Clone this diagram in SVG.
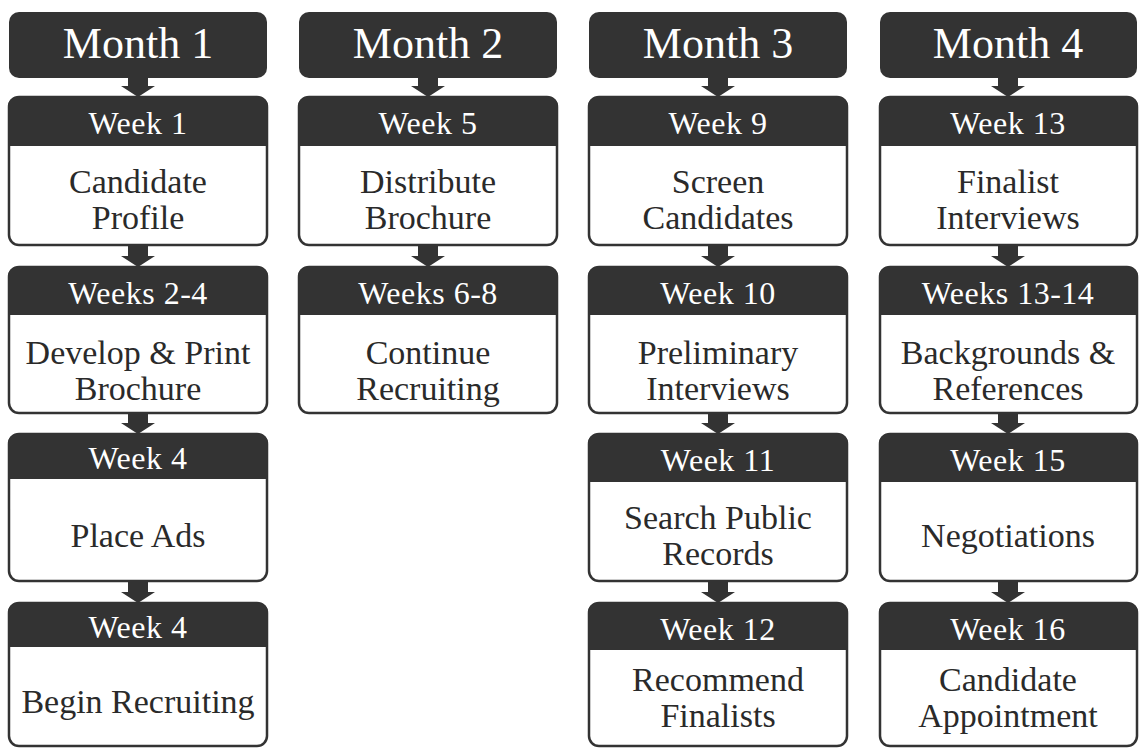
<svg xmlns="http://www.w3.org/2000/svg" width="1139" height="749" viewBox="0 0 1139 749">
<style>
.bg{fill:#ffffff}
.month{fill:#333333}
.mt{font-family:'Liberation Serif',serif;font-size:44px;fill:#ffffff;text-anchor:middle}
.body{fill:#ffffff;stroke:#333333;stroke-width:2.5}
.hdr{fill:#333333}
.wt{font-family:'Liberation Serif',serif;font-size:32px;letter-spacing:0.5px;fill:#ffffff;text-anchor:middle}
.bt{font-family:'Liberation Serif',serif;font-size:34px;fill:#2a2a2a;text-anchor:middle}
.arr{fill:#333333}
</style>
<rect class="bg" x="0" y="0" width="1139" height="749"/>

<!-- Column 1 -->
<g id="month1"><rect class="month" x="9" y="12" width="258" height="66" rx="10"/><text class="mt" x="138" y="58">Month 1</text></g>
<g id="week1">
<rect class="body" x="9" y="97" width="258" height="148" rx="10"/>
<path class="hdr" d="M8,146 V107 Q8,97 18,97 H258 Q268,97 268,107 V146 Z"/>
<text class="wt" x="138" y="134">Week 1</text>
<text class="bt" x="138" y="193">Candidate</text><text class="bt" x="138" y="229">Profile</text>
</g>
<g id="weeks2-4">
<rect class="body" x="9" y="267" width="258" height="146" rx="10"/>
<path class="hdr" d="M8,315 V277 Q8,267 18,267 H258 Q268,267 268,277 V315 Z"/>
<text class="wt" x="138" y="304">Weeks 2-4</text>
<text class="bt" x="138" y="364">Develop &amp; Print</text><text class="bt" x="138" y="400">Brochure</text>
</g>
<g id="week4a">
<rect class="body" x="9" y="434" width="258" height="147" rx="10"/>
<path class="hdr" d="M8,479 V444 Q8,434 18,434 H258 Q268,434 268,444 V479 Z"/>
<text class="wt" x="138" y="469">Week 4</text>
<text class="bt" x="138" y="547">Place Ads</text>
</g>
<g id="week4b">
<rect class="body" x="9" y="603" width="258" height="143" rx="10"/>
<path class="hdr" d="M8,647 V613 Q8,603 18,603 H258 Q268,603 268,613 V647 Z"/>
<text class="wt" x="138" y="638">Week 4</text>
<text class="bt" x="138" y="713">Begin Recruiting</text>
</g>

<!-- Column 2 -->
<g id="month2"><rect class="month" x="299" y="12" width="258" height="66" rx="10"/><text class="mt" x="428" y="58">Month 2</text></g>
<g id="week5">
<rect class="body" x="299" y="97" width="258" height="148" rx="10"/>
<path class="hdr" d="M298,146 V107 Q298,97 308,97 H548 Q558,97 558,107 V146 Z"/>
<text class="wt" x="428" y="134">Week 5</text>
<text class="bt" x="428" y="193">Distribute</text><text class="bt" x="428" y="229">Brochure</text>
</g>
<g id="weeks6-8">
<rect class="body" x="299" y="267" width="258" height="146" rx="10"/>
<path class="hdr" d="M298,315 V277 Q298,267 308,267 H548 Q558,267 558,277 V315 Z"/>
<text class="wt" x="428" y="304">Weeks 6-8</text>
<text class="bt" x="428" y="364">Continue</text><text class="bt" x="428" y="400">Recruiting</text>
</g>

<!-- Column 3 -->
<g id="month3"><rect class="month" x="589" y="12" width="258" height="66" rx="10"/><text class="mt" x="718" y="58">Month 3</text></g>
<g id="week9">
<rect class="body" x="589" y="97" width="258" height="148" rx="10"/>
<path class="hdr" d="M588,146 V107 Q588,97 598,97 H838 Q848,97 848,107 V146 Z"/>
<text class="wt" x="718" y="134">Week 9</text>
<text class="bt" x="718" y="193">Screen</text><text class="bt" x="718" y="229">Candidates</text>
</g>
<g id="week10">
<rect class="body" x="589" y="267" width="258" height="146" rx="10"/>
<path class="hdr" d="M588,315 V277 Q588,267 598,267 H838 Q848,267 848,277 V315 Z"/>
<text class="wt" x="718" y="304">Week 10</text>
<text class="bt" x="718" y="364">Preliminary</text><text class="bt" x="718" y="400">Interviews</text>
</g>
<g id="week11">
<rect class="body" x="589" y="434" width="258" height="147" rx="10"/>
<path class="hdr" d="M588,482 V444 Q588,434 598,434 H838 Q848,434 848,444 V482 Z"/>
<text class="wt" x="718" y="471">Week 11</text>
<text class="bt" x="718" y="529">Search Public</text><text class="bt" x="718" y="565">Records</text>
</g>
<g id="week12">
<rect class="body" x="589" y="603" width="258" height="143" rx="10"/>
<path class="hdr" d="M588,650 V613 Q588,603 598,603 H838 Q848,603 848,613 V650 Z"/>
<text class="wt" x="718" y="640">Week 12</text>
<text class="bt" x="718" y="691">Recommend</text><text class="bt" x="718" y="727">Finalists</text>
</g>

<!-- Column 4 -->
<g id="month4"><rect class="month" x="880" y="12" width="257" height="66" rx="10"/><text class="mt" x="1008" y="58">Month 4</text></g>
<g id="week13">
<rect class="body" x="880" y="97" width="257" height="148" rx="10"/>
<path class="hdr" d="M879,146 V107 Q879,97 889,97 H1128 Q1138,97 1138,107 V146 Z"/>
<text class="wt" x="1008" y="134">Week 13</text>
<text class="bt" x="1008" y="193">Finalist</text><text class="bt" x="1008" y="229">Interviews</text>
</g>
<g id="weeks13-14">
<rect class="body" x="880" y="267" width="257" height="146" rx="10"/>
<path class="hdr" d="M879,315 V277 Q879,267 889,267 H1128 Q1138,267 1138,277 V315 Z"/>
<text class="wt" x="1008" y="304">Weeks 13-14</text>
<text class="bt" x="1008" y="364">Backgrounds &amp;</text><text class="bt" x="1008" y="400">References</text>
</g>
<g id="week15">
<rect class="body" x="880" y="434" width="257" height="147" rx="10"/>
<path class="hdr" d="M879,482 V444 Q879,434 889,434 H1128 Q1138,434 1138,444 V482 Z"/>
<text class="wt" x="1008" y="471">Week 15</text>
<text class="bt" x="1008" y="547">Negotiations</text>
</g>
<g id="week16">
<rect class="body" x="880" y="603" width="257" height="143" rx="10"/>
<path class="hdr" d="M879,650 V613 Q879,603 889,603 H1128 Q1138,603 1138,613 V650 Z"/>
<text class="wt" x="1008" y="640">Week 16</text>
<text class="bt" x="1008" y="691">Candidate</text><text class="bt" x="1008" y="727">Appointment</text>
</g>

<!-- Connectors -->
<g id="connectors">
<polygon class="arr" points="128,76 148,76 148,86 155,86 138,97 121,86 128,86"/>
<polygon class="arr" points="128,244 148,244 148,256 155,256 138,267 121,256 128,256"/>
<polygon class="arr" points="128,412 148,412 148,423 155,423 138,434 121,423 128,423"/>
<polygon class="arr" points="128,580 148,580 148,592 155,592 138,603 121,592 128,592"/>

<polygon class="arr" points="418,76 438,76 438,86 445,86 428,97 411,86 418,86"/>
<polygon class="arr" points="418,244 438,244 438,256 445,256 428,267 411,256 418,256"/>

<polygon class="arr" points="708,76 728,76 728,86 735,86 718,97 701,86 708,86"/>
<polygon class="arr" points="708,244 728,244 728,256 735,256 718,267 701,256 708,256"/>
<polygon class="arr" points="708,412 728,412 728,423 735,423 718,434 701,423 708,423"/>
<polygon class="arr" points="708,580 728,580 728,592 735,592 718,603 701,592 708,592"/>

<polygon class="arr" points="998,76 1018,76 1018,86 1025,86 1008,97 991,86 998,86"/>
<polygon class="arr" points="998,244 1018,244 1018,256 1025,256 1008,267 991,256 998,256"/>
<polygon class="arr" points="998,412 1018,412 1018,423 1025,423 1008,434 991,423 998,423"/>
<polygon class="arr" points="998,580 1018,580 1018,592 1025,592 1008,603 991,592 998,592"/>
</g>
</svg>
